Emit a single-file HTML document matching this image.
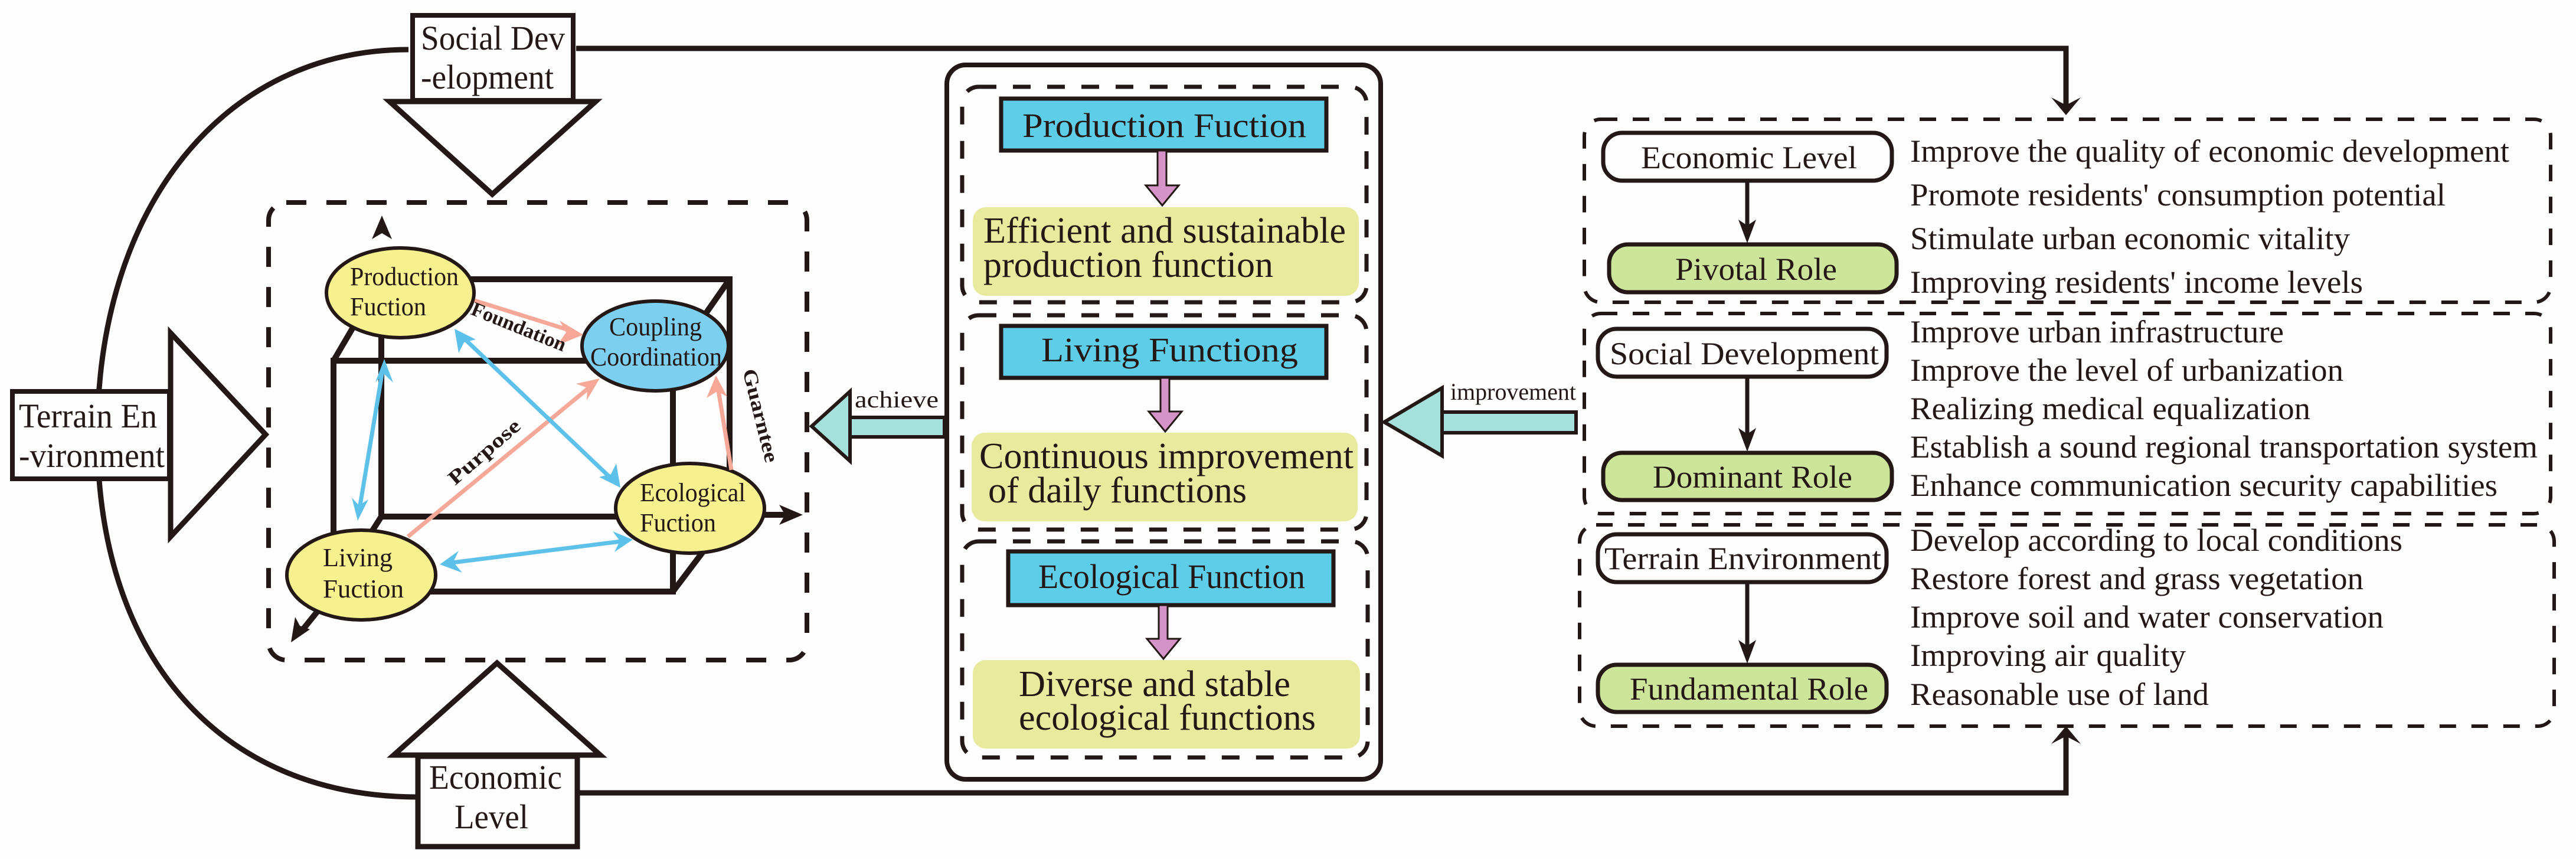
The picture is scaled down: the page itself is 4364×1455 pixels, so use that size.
<!DOCTYPE html>
<html><head><meta charset="utf-8"><style>
html,body{margin:0;padding:0;background:#fdfdfd;}
svg{display:block;}
text{font-family:"Liberation Serif",serif;fill:#231815;}
</style></head><body>
<svg width="4364" height="1455" viewBox="0 0 4364 1455" xmlns="http://www.w3.org/2000/svg" font-family="Liberation Serif, serif">
<rect width="4364" height="1455" fill="#fdfdfd"/>
<g stroke="#231815" fill="none" stroke-width="9">
<path d="M976 82 H3500 V180"/>
<path d="M978 1343 H3500 V1245"/>
<path d="M692 84 C380 84 165 350 165 736 C165 1120 380 1350 708 1350"/>
</g>
<polygon points="3475,165 3500,195 3525,165 3500,178" fill="#231815"/>
<polygon points="3475,1260 3500,1230 3525,1260 3500,1247" fill="#231815"/>
<rect x="699" y="26" width="272" height="144" fill="#fdfdfd" stroke="#231815" stroke-width="8"/>
<polygon points="660,172 1009,172 834,329" fill="#fdfdfd" stroke="#231815" stroke-width="9"/>
<text x="713" y="84" font-size="58" textLength="244" lengthAdjust="spacingAndGlyphs">Social Dev</text>
<text x="713" y="150" font-size="58" textLength="225" lengthAdjust="spacingAndGlyphs">-elopment</text>
<rect x="21" y="663" width="266" height="148" fill="#fdfdfd" stroke="#231815" stroke-width="8"/>
<polygon points="289,564 289,909 450,736" fill="#fdfdfd" stroke="#231815" stroke-width="9"/>
<text x="32" y="724" font-size="58" textLength="234" lengthAdjust="spacingAndGlyphs">Terrain En</text>
<text x="32" y="791" font-size="58" textLength="247" lengthAdjust="spacingAndGlyphs">-vironment</text>
<polygon points="667,1279 1017,1279 842,1123" fill="#fdfdfd" stroke="#231815" stroke-width="9"/>
<rect x="708" y="1281" width="270" height="153" fill="#fdfdfd" stroke="#231815" stroke-width="9"/>
<text x="727" y="1336" font-size="58" textLength="225" lengthAdjust="spacingAndGlyphs">Economic</text>
<text x="770" y="1403" font-size="58" textLength="125" lengthAdjust="spacingAndGlyphs">Level</text>
<rect x="455" y="343" width="912" height="775" rx="30" fill="none" stroke="#231815" stroke-width="8" stroke-dasharray="34,34"/>
<g stroke="#231815" stroke-width="10" fill="none">
<rect x="565" y="611" width="575" height="391"/>
<rect x="646" y="473" width="590" height="402"/>
<line x1="565" y1="611" x2="646" y2="473"/>
<line x1="1140" y1="611" x2="1236" y2="473"/>
<line x1="565" y1="1002" x2="646" y2="875"/>
<line x1="1140" y1="1002" x2="1236" y2="875"/>
<line x1="647" y1="420" x2="647" y2="473"/>
<line x1="1236" y1="872" x2="1340" y2="872"/>
<line x1="565" y1="1002" x2="510" y2="1070"/>
</g>
<polygon points="647,365 630,405 647,395 664,405" fill="#231815"/>
<polygon points="1360,872 1320,855 1330,872 1320,889" fill="#231815"/>
<polygon points="493,1088 500,1045 508,1060 525,1066" fill="#231815"/>
<g stroke="#231815" stroke-width="6">
<ellipse cx="678" cy="496" rx="125" ry="76" fill="#f6f08f"/>
<ellipse cx="1110" cy="586" rx="124" ry="76" fill="#7ccfee"/>
<ellipse cx="1169" cy="861" rx="126" ry="76" fill="#f6f08f"/>
<ellipse cx="612" cy="974" rx="126" ry="76" fill="#f6f08f"/>
</g>
<g font-size="44">
<text x="593" y="483" textLength="184" lengthAdjust="spacingAndGlyphs">Production</text>
<text x="593" y="534" textLength="129" lengthAdjust="spacingAndGlyphs">Fuction</text>
<text x="1032" y="568" textLength="157" lengthAdjust="spacingAndGlyphs">Coupling</text>
<text x="1000" y="619" textLength="223" lengthAdjust="spacingAndGlyphs">Coordination</text>
<text x="1084" y="849" textLength="179" lengthAdjust="spacingAndGlyphs">Ecological</text>
<text x="1084" y="900" textLength="129" lengthAdjust="spacingAndGlyphs">Fuction</text>
<text x="547" y="959" textLength="118" lengthAdjust="spacingAndGlyphs">Living</text>
<text x="547" y="1012" textLength="137" lengthAdjust="spacingAndGlyphs">Fuction</text>
</g>
<g stroke-width="7" fill="none">
<line x1="804" y1="509" x2="970" y2="561" stroke="#f5a898"/>
<line x1="691" y1="909" x2="1000" y2="655" stroke="#f5a898"/>
<line x1="1239" y1="796" x2="1216" y2="655" stroke="#f5a898"/>
<line x1="785" y1="572" x2="1036" y2="811" stroke="#5ec1ea"/>
<line x1="648" y1="628" x2="609" y2="862" stroke="#5ec1ea"/>
<line x1="766" y1="953" x2="1052" y2="917" stroke="#5ec1ea"/>
</g>
<g>
<polygon points="988,567 948,543 959,563 944,585" fill="#f5a898"/>
<polygon points="1016,641 976,650 995,657 994,678" fill="#f5a898"/>
<polygon points="1213,636 1197,674 1215,663 1232,672" fill="#f5a898"/>
<polygon points="770,557 777,598 786,580 806,575" fill="#5ec1ea"/>
<polygon points="1051,826 1044,785 1035,803 1015,808" fill="#5ec1ea"/>
<polygon points="651,608 636,647 651,634 666,648" fill="#5ec1ea"/>
<polygon points="606,882 596,843 608,856 624,846" fill="#5ec1ea"/>
<polygon points="745,956 777,933 768,952 783,970" fill="#5ec1ea"/>
<polygon points="1072,914 1038,900 1050,916 1041,935" fill="#5ec1ea"/>
</g>
<text font-size="34" font-weight="bold" transform="translate(796,532) rotate(22)" textLength="170" lengthAdjust="spacingAndGlyphs">Foundation</text>
<text font-size="34" font-weight="bold" transform="translate(771,823) rotate(-41)" textLength="150" lengthAdjust="spacingAndGlyphs">Purpose</text>
<text font-size="34" font-weight="bold" transform="translate(1258,628) rotate(76)" textLength="162" lengthAdjust="spacingAndGlyphs">Guarntee</text>
<rect x="1440" y="707" width="160" height="33" fill="#a5e0da" stroke="#231815" stroke-width="6"/>
<polygon points="1375,722 1440,663 1440,781" fill="#a5e0da" stroke="#231815" stroke-width="6"/>
<text x="1448" y="690" font-size="40" textLength="142" lengthAdjust="spacingAndGlyphs">achieve</text>
<rect x="2443" y="698" width="227" height="35" fill="#a5e0da" stroke="#231815" stroke-width="6"/>
<polygon points="2345,715 2443,657 2443,772" fill="#a5e0da" stroke="#231815" stroke-width="6"/>
<text x="2457" y="677" font-size="40" textLength="213" lengthAdjust="spacingAndGlyphs">improvement</text>
<rect x="1604" y="110" width="735" height="1210" rx="32" fill="none" stroke="#231815" stroke-width="8"/>
<g fill="none" stroke="#231815" stroke-width="7" stroke-dasharray="30,28">
<rect x="1630" y="147" width="685" height="365" rx="28"/>
<rect x="1630" y="534" width="685" height="363" rx="28"/>
<rect x="1630" y="917" width="687" height="366" rx="28"/>
</g>
<g fill="#5ecde8" stroke="#231815" stroke-width="7">
<rect x="1696" y="167" width="551" height="88"/>
<rect x="1696" y="552" width="551" height="88"/>
<rect x="1708" y="934" width="551" height="91"/>
</g>
<g fill="#e8eb9d">
<rect x="1648" y="351" width="654" height="150" rx="22"/>
<rect x="1646" y="733" width="654" height="150" rx="22"/>
<rect x="1648" y="1118" width="656" height="150" rx="22"/>
</g>
<g fill="#d594c8" stroke="#231815" stroke-width="3">
<polygon points="1961,255 1976,255 1976,314 1997,314 1969,348 1941,314 1961,314"/>
<polygon points="1966,640 1981,640 1981,697 2002,697 1974,731 1946,697 1966,697"/>
<polygon points="1963,1025 1978,1025 1978,1082 1999,1082 1971,1116 1943,1082 1963,1082"/>
</g>
<g font-size="58">
<text x="1732" y="232" textLength="481" lengthAdjust="spacingAndGlyphs">Production Fuction</text>
<text x="1764" y="612" textLength="435" lengthAdjust="spacingAndGlyphs">Living Functiong</text>
<text x="1759" y="996" textLength="452" lengthAdjust="spacingAndGlyphs">Ecological Function</text>
</g>
<g font-size="62">
<text x="1666" y="411" textLength="614" lengthAdjust="spacingAndGlyphs">Efficient and sustainable</text>
<text x="1666" y="469" textLength="491" lengthAdjust="spacingAndGlyphs">production function</text>
<text x="1659" y="793" textLength="634" lengthAdjust="spacingAndGlyphs">Continuous improvement</text>
<text x="1674" y="851" textLength="438" lengthAdjust="spacingAndGlyphs">of daily functions</text>
<text x="1726" y="1179" textLength="460" lengthAdjust="spacingAndGlyphs">Diverse and stable</text>
<text x="1726" y="1236" textLength="503" lengthAdjust="spacingAndGlyphs">ecological functions</text>
</g>
<g fill="none" stroke="#231815" stroke-width="6" stroke-dasharray="28,26">
<rect x="2684" y="202" width="1637" height="310" rx="28"/>
<rect x="2684" y="531" width="1637" height="339" rx="28"/>
<rect x="2676" y="889" width="1651" height="341" rx="28"/>
</g>
<g stroke="#231815" stroke-width="7">
<rect x="2716" y="225" width="489" height="81" rx="32" fill="#fdfdfd"/>
<rect x="2726" y="414" width="487" height="81" rx="32" fill="#cde59a"/>
<rect x="2707" y="557" width="489" height="81" rx="32" fill="#fdfdfd"/>
<rect x="2716" y="767" width="489" height="80" rx="32" fill="#cde59a"/>
<rect x="2707" y="905" width="489" height="81" rx="32" fill="#fdfdfd"/>
<rect x="2707" y="1126" width="489" height="80" rx="32" fill="#cde59a"/>
</g>
<g stroke="#231815" stroke-width="7">
<line x1="2960" y1="306" x2="2960" y2="395"/>
<line x1="2960" y1="638" x2="2960" y2="748"/>
<line x1="2960" y1="986" x2="2960" y2="1107"/>
</g>
<g fill="#231815">
<polygon points="2945,372 2960,412 2975,372 2960,382"/>
<polygon points="2945,725 2960,765 2975,725 2960,735"/>
<polygon points="2945,1084 2960,1124 2975,1084 2960,1094"/>
</g>
<g font-size="54">
<text x="2780" y="285" textLength="366" lengthAdjust="spacingAndGlyphs">Economic Level</text>
<text x="2838" y="474" textLength="274" lengthAdjust="spacingAndGlyphs">Pivotal Role</text>
<text x="2727" y="617" textLength="456" lengthAdjust="spacingAndGlyphs">Social Development</text>
<text x="2800" y="826" textLength="338" lengthAdjust="spacingAndGlyphs">Dominant Role</text>
<text x="2718" y="964" textLength="469" lengthAdjust="spacingAndGlyphs">Terrain Environment</text>
<text x="2761" y="1185" textLength="404" lengthAdjust="spacingAndGlyphs">Fundamental Role</text>
</g>
<g font-size="54">
<text x="3236" y="274" textLength="1015" lengthAdjust="spacingAndGlyphs">Improve the quality of economic development</text>
<text x="3236" y="348" textLength="907" lengthAdjust="spacingAndGlyphs">Promote residents' consumption potential</text>
<text x="3236" y="422" textLength="745" lengthAdjust="spacingAndGlyphs">Stimulate urban economic vitality</text>
<text x="3236" y="496" textLength="767" lengthAdjust="spacingAndGlyphs">Improving residents' income levels</text>
<text x="3236" y="580" textLength="633" lengthAdjust="spacingAndGlyphs">Improve urban infrastructure</text>
<text x="3236" y="645" textLength="734" lengthAdjust="spacingAndGlyphs">Improve the level of urbanization</text>
<text x="3236" y="710" textLength="678" lengthAdjust="spacingAndGlyphs">Realizing medical equalization</text>
<text x="3236" y="775" textLength="1063" lengthAdjust="spacingAndGlyphs">Establish a sound regional transportation system</text>
<text x="3236" y="840" textLength="995" lengthAdjust="spacingAndGlyphs">Enhance communication security capabilities</text>
<text x="3236" y="933" textLength="834" lengthAdjust="spacingAndGlyphs">Develop according to local conditions</text>
<text x="3236" y="998" textLength="768" lengthAdjust="spacingAndGlyphs">Restore forest and grass vegetation</text>
<text x="3236" y="1063" textLength="802" lengthAdjust="spacingAndGlyphs">Improve soil and water conservation</text>
<text x="3236" y="1128" textLength="467" lengthAdjust="spacingAndGlyphs">Improving air quality</text>
<text x="3236" y="1194" textLength="506" lengthAdjust="spacingAndGlyphs">Reasonable use of land</text>
</g>
</svg>
</body></html>
